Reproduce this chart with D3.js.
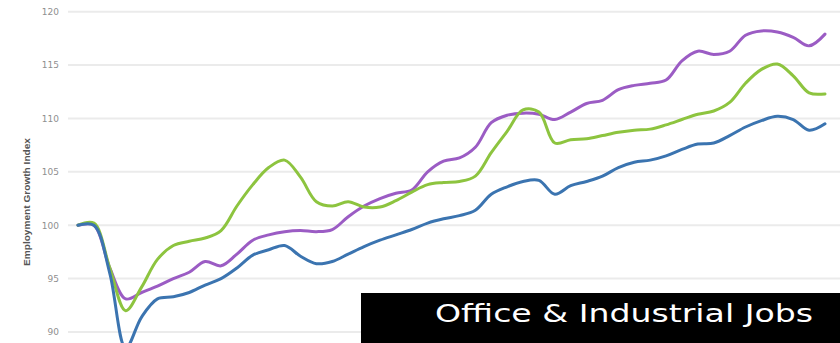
<!DOCTYPE html>
<html>
<head>
<meta charset="utf-8">
<script src="https://cdn.jsdelivr.net/npm/d3@7"></script>
<style>
  body { margin: 0; background: #fff; }
  svg { display: block; }
</style>
</head>
<body>
<svg id="chart" width="840" height="343"></svg>
<script>
// monthly index, Jan 2020 .. Dec 2023
const months = d3.range(48);
const yTicks = [90, 95, 100, 105, 110, 115, 120];

const blue = [100, 100, 95.5, 88.5, 91.4, 93.1, 93.3, 93.7, 94.4, 95.0, 96.0, 97.2,
  97.7, 98.1, 97.1, 96.4, 96.6, 97.3, 98.0, 98.6, 99.1, 99.6, 100.2, 100.6,
  100.9, 101.4, 102.9, 103.6, 104.1, 104.2, 102.9, 103.7, 104.1, 104.6, 105.4, 105.9,
  106.1, 106.5, 107.1, 107.6, 107.7, 108.4, 109.2, 109.8, 110.2, 109.9, 108.9, 109.5];

const purple = [100, 100, 96.0, 93.1, 93.7, 94.3, 95.0, 95.6, 96.6, 96.2, 97.3, 98.6,
  99.1, 99.4, 99.5, 99.4, 99.6, 100.8, 101.8, 102.5, 103.0, 103.3, 105.0, 106.0,
  106.3, 107.3, 109.6, 110.3, 110.5, 110.4, 109.9, 110.6, 111.4, 111.7, 112.7, 113.1,
  113.3, 113.6, 115.4, 116.3, 116.0, 116.3, 117.8, 118.2, 118.1, 117.6, 116.8, 117.9];

const green = [100, 100.2, 96.0, 92.0, 94.2, 96.8, 98.1, 98.5, 98.8, 99.5, 101.8, 103.8,
  105.4, 106.1, 104.5, 102.2, 101.8, 102.2, 101.7, 101.7, 102.3, 103.1, 103.8, 104.0,
  104.1, 104.6, 106.8, 108.8, 110.8, 110.6, 107.7, 108.0, 108.1, 108.4, 108.7, 108.9,
  109.0, 109.4, 109.9, 110.4, 110.7, 111.5, 113.3, 114.6, 115.1, 114.0, 112.4, 112.3];

const seriesNames = ["Office", "Industrial", "Total"];
const seriesColors = ["#9b5cc4", "#8dc43f", "#3b74b0"];
const seriesValues = [purple, green, blue];

const width = 840;
const height = 343;

const svg = d3.select("#chart");

const x = d3.scaleLinear().domain([0, 47]).range([78, 825]);
const y = d3.scaleLinear().domain([90, 120]).range([332, 11.7]);

// gridlines
svg.append("g")
  .selectAll("line")
  .data(yTicks)
  .join("line")
  .attr("x1", 68)
  .attr("x2", width)
  .attr("y1", d => y(d))
  .attr("y2", d => y(d))
  .attr("stroke", "#ebebeb")
  .attr("stroke-width", 2);

// y axis labels
const yAxis = d3.axisLeft(y).tickValues(yTicks).tickSize(0).tickPadding(0);
svg.append("g")
  .attr("transform", "translate(59,0)")
  .call(yAxis)
  .call(g => g.select(".domain").remove())
  .call(g => g.selectAll("text")
    .attr("fill", "#8f8f8f")
    .style("font-family", "'DejaVu Sans', sans-serif")
    .style("font-size", "9px"));

svg.append("text")
  .attr("transform", "translate(30,202) rotate(-90)")
  .attr("text-anchor", "middle")
  .attr("fill", "#555")
  .attr("textLength", 128)
  .attr("lengthAdjust", "spacingAndGlyphs")
  .style("font-family", "'Liberation Sans', Arial, sans-serif")
  .style("font-size", "8.5px")
  .style("font-weight", "bold")
  .text("Employment Growth Index");

const line = d3.line()
  .x((d, i) => x(months[i]))
  .y(d => y(d))
  .curve(d3.curveCatmullRom.alpha(0.5));

svg.append("g")
  .selectAll("path")
  .data(seriesValues)
  .join("path")
  .attr("d", d => line(d))
  .attr("fill", "none")
  .attr("stroke", (d, i) => seriesColors[i])
  .attr("stroke-width", 3)
  .attr("stroke-linejoin", "round")
  .attr("stroke-linecap", "round");

// title banner
svg.append("rect")
  .attr("x", 361)
  .attr("y", 293)
  .attr("width", width - 361)
  .attr("height", height - 293)
  .attr("fill", "#000");

svg.append("text")
  .attr("x", 435)
  .attr("y", 322)
  .attr("fill", "#fff")
  .attr("textLength", 378)
  .attr("lengthAdjust", "spacingAndGlyphs")
  .style("font-family", "'DejaVu Sans', sans-serif")
  .style("font-size", "24px")
  .style("font-weight", "normal")
  .text("Office & Industrial Jobs");
</script>
</body>
</html>
